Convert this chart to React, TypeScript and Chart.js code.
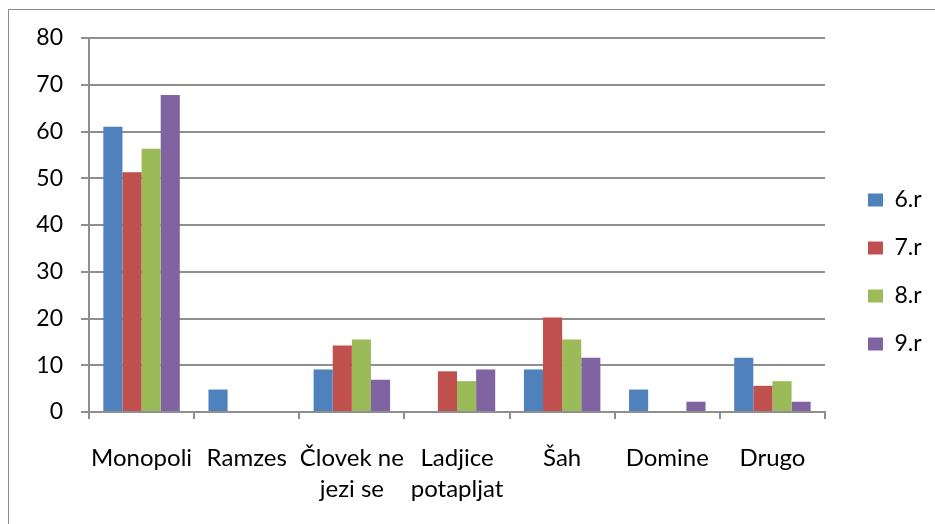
import React, { useEffect, useRef } from "react";
import { Chart, registerables } from "chart.js";

Chart.register(...registerables);

const categories: (string | string[])[] = [
  "Monopoli",
  "Ramzes",
  ["Človek ne", "jezi se"],
  ["Ladjice", "potapljat"],
  "Šah",
  "Domine",
  "Drugo",
];

const seriesNames = ["6.r", "7.r", "8.r", "9.r"];
const seriesColors = ["#4F81BD", "#C0504D", "#9BBB59", "#8064A2"];

const values6 = [61.0, 4.8, 9.1, 0, 9.1, 4.8, 11.6];
const values7 = [51.3, 0, 14.2, 8.7, 20.2, 0, 5.6];
const values8 = [56.3, 0, 15.5, 6.6, 15.5, 0, 6.6];
const values9 = [67.8, 0, 6.9, 9.1, 11.6, 2.2, 2.2];

const yMin = 0;
const yMax = 80;
const yStep = 10;

const GRID = "#8f8f8f";

const shiftLegend = {
  id: "shiftLegend",
  afterLayout(chart: any) {
    const l = chart.legend;
    if (l) {
      l.left += 18;
      l.right += 18;
    }
  },
};

export default function App() {
  const ref = useRef<HTMLCanvasElement | null>(null);

  useEffect(() => {
    if (!ref.current) return;
    const seriesValues = [values6, values7, values8, values9];
    const chart = new Chart(ref.current, {
      type: "bar",
      data: {
        labels: categories,
        datasets: seriesNames.map((name, i) => ({
          label: name,
          data: seriesValues[i],
          backgroundColor: seriesColors[i],
          borderWidth: 0,
          categoryPercentage: 4 / 5.5,
          barPercentage: 1,
        })),
      },
      plugins: [shiftLegend],
      options: {
        animation: false,
        responsive: true,
        maintainAspectRatio: false,
        layout: { padding: { top: 28, right: 25, bottom: 18, left: 0 } },
        font: { family: "Lato" },
        plugins: {
          tooltip: { enabled: false },
          legend: {
            position: "right",
            maxWidth: 85,
            labels: {
              boxWidth: 15,
              boxHeight: 13,
              padding: 25,
              color: "#000",
              font: { family: "Lato", size: 23 },
            },
          },
        },
        scales: {
          x: {
            grid: {
              display: true,
              drawOnChartArea: false,
              drawTicks: true,
              tickLength: 7,
              offset: true,
              color: GRID,
              lineWidth: 2,
            },
            border: { display: true, color: GRID, width: 2 },
            ticks: {
              color: "#000",
              font: { family: "Lato", size: 24, lineHeight: 1.32 },
              padding: 23,
              autoSkip: false,
              maxRotation: 0,
              minRotation: 0,
            },
            afterFit: (scale: any) => {
              scale.height = 94;
            },
          },
          y: {
            min: yMin,
            max: yMax,
            ticks: {
              stepSize: yStep,
              color: "#000",
              font: { family: "Lato", size: 23, lineHeight: 0.8 },
              padding: 18,
            },
            grid: {
              color: GRID,
              lineWidth: 2,
              drawTicks: true,
              tickLength: 8,
            },
            border: { display: true, color: GRID, width: 2 },
            afterFit: (scale: any) => {
              scale.width = 80;
            },
          },
        },
      },
    });
    return () => chart.destroy();
  }, []);

  return (
    <div
      style={{
        position: "absolute",
        left: 8,
        top: 9,
        width: 927,
        height: 515,
        boxSizing: "border-box",
        borderLeft: "1px solid #8c8c8c",
        borderTop: "1px solid #8c8c8c",
        overflow: "hidden",
        background: "#fff",
      }}
    >
      <div style={{ position: "relative", width: 926, height: 514 }}>
        <canvas ref={ref} />
      </div>
    </div>
  );
}
